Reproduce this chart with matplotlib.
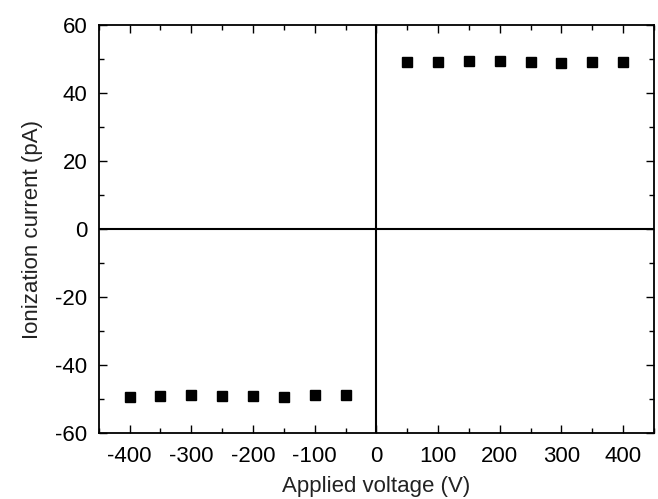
import matplotlib
matplotlib.use('Agg')
import matplotlib.pyplot as plt
from matplotlib.ticker import MultipleLocator

plt.rcParams['font.family'] = ['Liberation Sans', 'DejaVu Sans']
plt.rcParams['axes.unicode_minus'] = False

# data
v_neg = [-400, -350, -300, -250, -200, -150, -100, -50]
i_neg = [-49.3, -49.0, -48.9, -49.0, -49.0, -49.5, -48.8, -48.8]
v_pos = [50, 100, 150, 200, 250, 300, 350, 400]
i_pos = [49.0, 49.0, 49.4, 49.4, 49.0, 48.9, 49.0, 49.2]

fig = plt.figure(figsize=(6.58, 4.99), dpi=100)
ax = fig.add_axes([0.150, 0.132, 0.844, 0.818])

ax.axhline(0, color='black', lw=1.5, zorder=1)
ax.axvline(0, color='black', lw=1.5, zorder=1)
ax.plot(v_neg, i_neg, 's', color='black', ms=6.5, zorder=3)
ax.plot(v_pos, i_pos, 's', color='black', ms=6.5, zorder=3)

ax.set_xlim(-450, 450)
ax.set_ylim(-60, 60)
ax.xaxis.set_major_locator(MultipleLocator(100))
ax.xaxis.set_minor_locator(MultipleLocator(50))
ax.yaxis.set_major_locator(MultipleLocator(20))
ax.yaxis.set_minor_locator(MultipleLocator(10))
ax.tick_params(which='both', direction='in', top=True, right=True, width=1.0, labelsize=16)
ax.tick_params(which='major', length=6)
ax.tick_params(which='minor', length=3.5)
ax.tick_params(axis='x', which='major', pad=9)
ax.tick_params(axis='y', which='major', pad=8)
for s in ax.spines.values():
    s.set_linewidth(1.3)

ax.set_xlabel('Applied voltage (V)', fontsize=16, labelpad=7, color='#222222')
ax.set_ylabel('Ionization current (pA)', fontsize=16, labelpad=9, color='#222222')

fig.savefig('out.png', dpi=100)
